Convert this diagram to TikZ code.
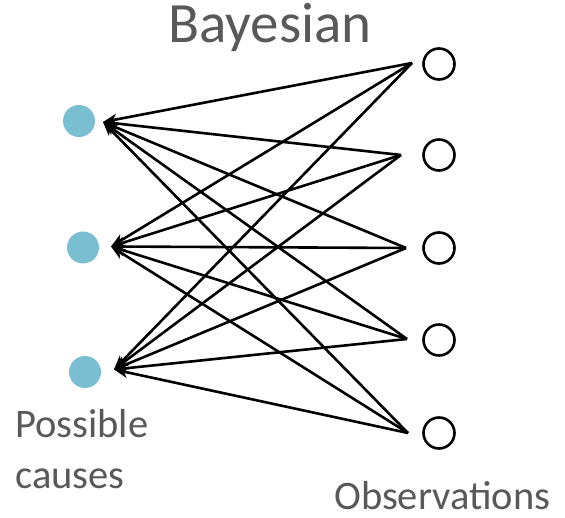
\documentclass[tikz,border=0pt]{standalone}
\usepackage{fontspec}
\setmainfont{Carlito}
\usetikzlibrary{arrows.meta}
\definecolor{causeblue}{RGB}{122,190,210}
\definecolor{txtgray}{RGB}{89,89,89}
\tikzset{
  cause/.style={circle, fill=causeblue, draw=none, minimum size=32pt, inner sep=0pt},
  obs/.style={circle, draw=black, line width=2.6pt, minimum size=31pt, inner sep=0pt},
  link/.style={line width=2.6pt, -{Stealth[length=14pt,width=11pt,inset=4pt]}},
  lbl/.style={text=txtgray, inner sep=0pt, font=\fontsize{40.5}{48}\selectfont}
}
\begin{document}
\begin{tikzpicture}[x=1pt,y=-1pt]
\useasboundingbox (0,0) rectangle (565,518);
% causes
\node[cause] (c1) at (79,121) {};
\node[cause] (c2) at (83,247.5) {};
\node[cause] (c3) at (85,372) {};
% observations
\node[obs] (o1) at (439,64) {};
\node[obs] (o2) at (439,155) {};
\node[obs] (o3) at (439,248) {};
\node[obs] (o4) at (439,340) {};
\node[obs] (o5) at (439,433) {};
% arrow tips near causes
\coordinate (t1) at (103,122);
\coordinate (t2) at (111,246.5);
\coordinate (t3) at (114,369.5);
% line ends near observations
\coordinate (e1) at (412,63);
\coordinate (e2) at (401,155);
\coordinate (e3) at (406,248);
\coordinate (e4) at (407,339);
\coordinate (e5) at (408,433);
\foreach \i in {1,2,3,4,5}{
  \foreach \j in {1,2,3}{
    \draw[link] (e\i) -- (t\j);
  }
}
% texts
\node[lbl, anchor=base, font=\fontsize{57}{62}\selectfont] (title) at (270,43) {Bayesian};
\node[lbl, anchor=base west] (pc1) at (15,438) {Possible};
\node[lbl, anchor=base west] (pc2) at (15,488) {causes};
\node[lbl, anchor=base west] (ob) at (334,509) {Observations};
\end{tikzpicture}
\end{document}
